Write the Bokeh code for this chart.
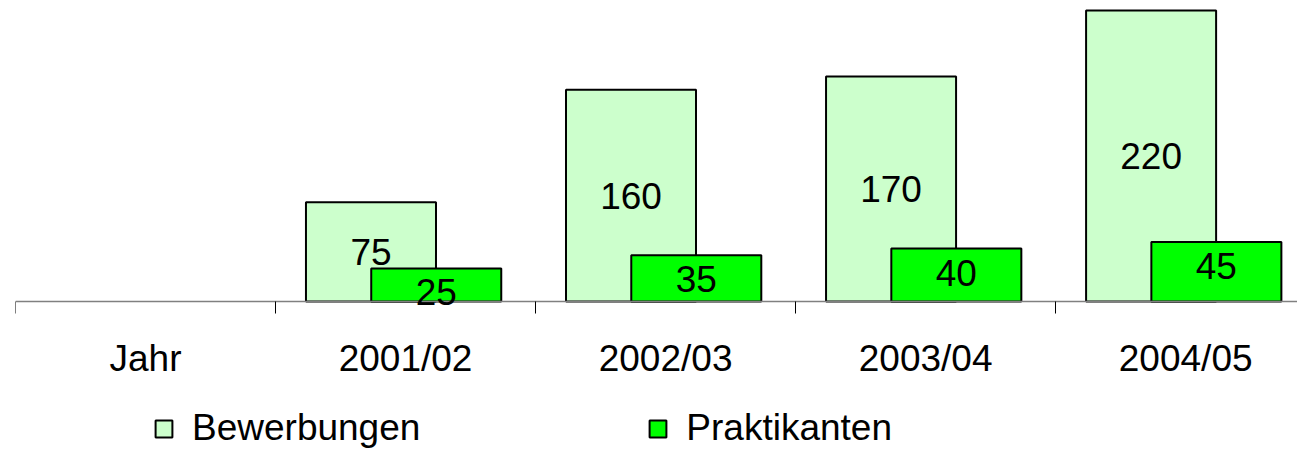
from bokeh.plotting import figure
from bokeh.models import (Range1d, FixedTicker, LinearAxis, Legend, LegendItem,
                          ColumnDataSource)
from bokeh.core.properties import value
from bokeh.embed import file_html
from bokeh.resources import INLINE

# ---- data ----
axis_labels = ["Jahr", "2001/02", "2002/03", "2003/04", "2004/05"]
years = ["2001/02", "2002/03", "2003/04", "2004/05"]
bewerbungen = [75, 160, 170, 220]
praktikanten = [25, 35, 40, 45]

FONT = "Liberation Sans"
BEW_COLOR = "#CCFFCC"
PRAK_COLOR = "#00FF00"

idx = [axis_labels.index(y) for y in years]
bew_x = [i + 0.5 - 0.133 for i in idx]
prak_x = [i + 0.5 + 0.118 for i in idx]

bew_src = ColumnDataSource(dict(x=bew_x, top=bewerbungen, mid=[v / 2 for v in bewerbungen],
                                lbl=[str(v) for v in bewerbungen]))
prak_src = ColumnDataSource(dict(x=prak_x, top=praktikanten,
                                 lbl=[str(v) for v in praktikanten]))

# frame covers the whole lower area; baseline (0) sits 293 px below the top
p = figure(frame_width=1282, frame_height=442,
           x_range=Range1d(0, 4.93), y_range=Range1d(-112.65, 221.5),
           output_backend="svg", toolbar_location=None,
           min_border_left=15, min_border_right=0, min_border_top=8,
           min_border_bottom=0,
           y_axis_location=None)
p.outline_line_color = None
p.xgrid.visible = False
p.ygrid.visible = False
p.background_fill_color = "white"

r_bew = p.vbar(x="x", top="top", width=0.5, bottom=0, source=bew_src,
               fill_color=BEW_COLOR, line_color="black", line_width=2)
r_prak = p.vbar(x="x", top="top", width=0.5, bottom=0, source=prak_src,
                fill_color=PRAK_COLOR, line_color="black", line_width=2)

p.text(x="x", y="mid", text="lbl", source=bew_src, text_align="center",
       text_baseline="middle", text_font=value(FONT), text_font_size="37px",
       text_color="black", level="overlay")
p.text(x="x", y="top", text="lbl", source=prak_src, text_align="center",
       text_baseline="middle", y_offset=24, text_font=value(FONT),
       text_font_size="37px", text_color="black", level="overlay")

# tick-mark axis (category boundaries) fixed at the baseline
ax = p.xaxis[0]
ax.fixed_location = 0
ax.ticker = FixedTicker(ticks=list(range(len(axis_labels))))
ax.major_label_overrides = {i: "" for i in range(len(axis_labels))}
ax.major_label_text_font_size = "1px"
ax.major_label_standoff = 0
ax.major_tick_in = 0
ax.major_tick_out = 12
ax.major_tick_line_color = "#000000"
ax.minor_tick_line_color = None
ax.axis_line_color = "#808080"
ax.axis_line_width = 1.5

# label axis (category centres)
centres = [i + 0.5 for i in range(len(axis_labels))]
lab = LinearAxis(ticker=FixedTicker(ticks=centres), fixed_location=0,
                 major_label_overrides={c: t for c, t in zip(centres, axis_labels)})
lab.axis_line_color = None
lab.major_tick_line_color = None
lab.minor_tick_line_color = None
lab.major_tick_out = 0
lab.major_tick_in = 0
lab.major_label_standoff = 37
lab.major_label_text_font = FONT
lab.major_label_text_font_size = "37px"
lab.major_label_text_color = "black"
p.add_layout(lab, "below")

legend = Legend(items=[LegendItem(label="Bewerbungen", renderers=[r_bew]),
                       LegendItem(label="Praktikanten", renderers=[r_prak])],
                orientation="horizontal", location=(138, 1),
                label_text_font=FONT, label_text_font_size="37px",
                label_text_color="black",
                glyph_width=21, glyph_height=21, label_standoff=18, spacing=227,
                padding=0, margin=0, border_line_color=None,
                background_fill_alpha=0)
p.add_layout(legend, "center")

open("out.html", "w").write(file_html(p, INLINE))
